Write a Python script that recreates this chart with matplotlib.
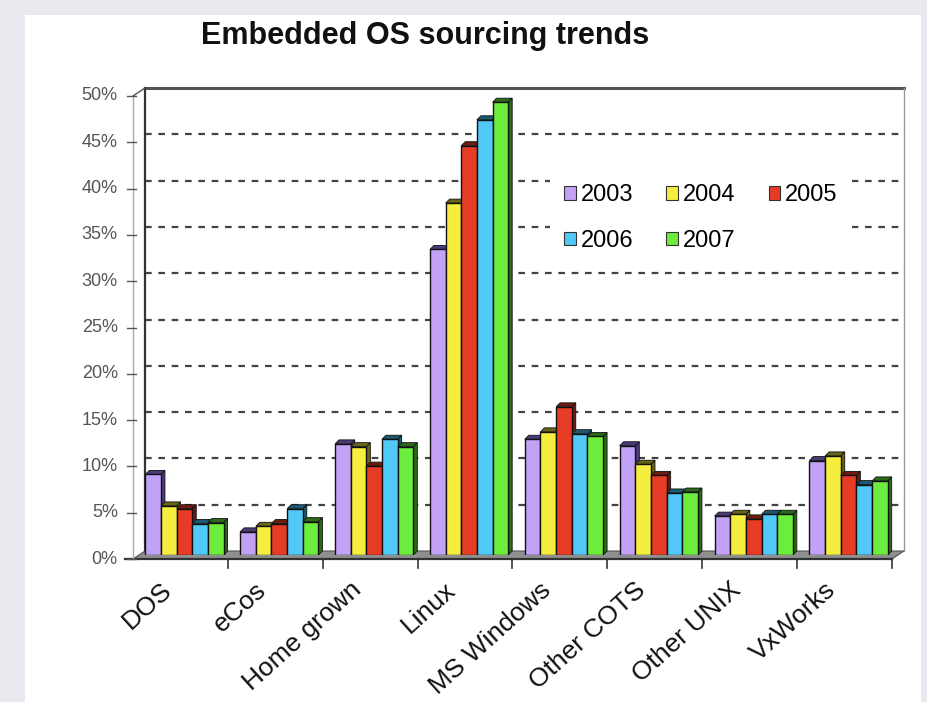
import matplotlib
matplotlib.use("Agg")
import matplotlib.pyplot as plt
from matplotlib.patches import Polygon, Rectangle
from matplotlib.transforms import ScaledTranslation
from matplotlib.lines import Line2D

categories = ["DOS", "eCos", "Home grown", "Linux", "MS Windows", "Other COTS", "Other UNIX", "VxWorks"]
years = ["2003", "2004", "2005", "2006", "2007"]
v2003 = [8.7, 2.5, 12.0, 33.0, 12.5, 11.8, 4.2, 10.2]
v2004 = [5.3, 3.1, 11.7, 38.0, 13.3, 9.8, 4.4, 10.7]
v2005 = [5.0, 3.4, 9.6, 44.2, 16.0, 8.6, 3.9, 8.6]
v2006 = [3.4, 5.0, 12.5, 47.0, 13.1, 6.7, 4.4, 7.6]
v2007 = [3.5, 3.6, 11.7, 48.9, 12.8, 6.8, 4.4, 8.0]
series = [v2003, v2004, v2005, v2006, v2007]
yticks = [0, 5, 10, 15, 20, 25, 30, 35, 40, 45, 50]
ytick_labels = ["0%", "5%", "10%", "15%", "20%", "25%", "30%", "35%", "40%", "45%", "50%"]

front_cols = ["#c2a2f6", "#f6ee3e", "#e63c26", "#52c8f6", "#6cec3c"]
side_cols = ["#4a3a78", "#6a6418", "#6e1c10", "#1c5a74", "#2a6a18"]

W, H = 928, 702
fig = plt.figure(figsize=(W / 100, H / 100), dpi=100)
fig.patch.set_facecolor("#e8eaef")
fig.add_artist(Rectangle((25 / W, 0), (921 - 25) / W, (702 - 15) / H,
                         transform=fig.transFigure, facecolor="white", edgecolor="none", zorder=0))

x0p, x1p, y0p, y50p = 139, 898, 555, 92
ax = fig.add_axes([x0p / W, (H - y0p) / H, (x1p - x0p) / W, (y0p - y50p) / H])
ax.set_xlim(0, 8)
ax.set_ylim(0, 50)
ax.axis("off")
ax.patch.set_alpha(0)

def off(dx, dy):
    return ax.transData + ScaledTranslation(dx / 100, dy / 100, fig.dpi_scale_trans)

wall = off(6, 4)
front = off(-6, -4)
font = ["Liberation Sans", "DejaVu Sans"]

for t in yticks[1:-1]:
    ax.add_line(Line2D([0, 8], [t, t], transform=wall, color="#444444", lw=1.6,
                       ls=(0, (3, 3)), zorder=1, clip_on=False))
ax.add_line(Line2D([0, 8], [50, 50], transform=wall, color="#555555", lw=2.2, zorder=1, clip_on=False))
ax.add_line(Line2D([0, 0], [0, 50], transform=wall, color="#333333", lw=1.6, zorder=1, clip_on=False))
ax.add_line(Line2D([8, 8], [0, 50], transform=wall, color="#999999", lw=1.0, zorder=1, clip_on=False))

px_x = 8 / (x1p - x0p)
px_y = 50 / (y0p - y50p)
floor = Polygon([(0 - 6 * px_x, 0 - 4 * px_y), (8 - 6 * px_x, 0 - 4 * px_y),
                 (8 + 6 * px_x, 0 + 4 * px_y), (0 + 6 * px_x, 0 + 4 * px_y)],
                closed=True, facecolor="#8f8f8f", edgecolor="#555555", lw=0.8, zorder=1.5, clip_on=False)
ax.add_patch(floor)

ax.add_line(Line2D([-0.08, 8], [0, 0], transform=front, color="#333333", lw=1.6, zorder=5, clip_on=False))
ax.add_line(Line2D([0, 0], [0, 50], transform=front, color="#aaaaaa", lw=1.0, zorder=5, clip_on=False))
ax.add_line(Line2D([0 - 6 * px_x, 0 + 6 * px_x], [50 - 4 * px_y, 50 + 4 * px_y], color="#555555",
                   lw=1.0, zorder=5, clip_on=False))
for t, lab in zip(yticks, ytick_labels):
    ax.add_line(Line2D([-0.06, 0.03], [t, t], transform=front, color="#555555", lw=1.0, zorder=5, clip_on=False))
    ax.text(-0.16, t, lab, transform=front, ha="right", va="center", fontsize=13,
            color="#555555", family=font)
for i in range(1, 9):
    ax.add_line(Line2D([i, i], [0, -1.0], transform=front, color="#333333", lw=1.2, zorder=5, clip_on=False))

bw = 0.165
ddx = 4 * px_x
ddy = 4 * px_y
start = 0.5 - 5 * bw / 2 - ddx / 2
for c in range(len(categories)):
    for s, vals in enumerate(series):
        v = vals[c]
        xl = c + start + s * bw
        xr = xl + bw
        z = 3 + c * 0.01 + s * 0.001
        side = Polygon([(xr, 0), (xr + ddx, ddy), (xr + ddx, v + ddy), (xr, v)], closed=True,
                       facecolor=side_cols[s], edgecolor="#111111", lw=0.6, zorder=z)
        top = Polygon([(xl, v), (xl + ddx, v + ddy), (xr + ddx, v + ddy), (xr, v)], closed=True,
                      facecolor=side_cols[s], edgecolor="#111111", lw=0.6, zorder=z)
        ax.add_patch(side)
        ax.add_patch(top)
        ax.bar(xl, v, width=bw, align="edge", color=front_cols[s], edgecolor="#111111",
               lw=1.0, zorder=z + 0.0005)

for i, cat in enumerate(categories):
    ax.text(i + 0.5 - 0.215, -2.0, cat, transform=front, rotation=42, rotation_mode="anchor",
            ha="right", va="top", fontsize=19, color="#111111", family=font)

handles = [Rectangle((0, 0), 1, 1, facecolor=front_cols[i], edgecolor="#333333", lw=0.8) for i in range(5)]
order = [0, 3, 1, 4, 2]
leg = ax.legend([handles[i] for i in order], [years[i] for i in order], ncol=3,
                loc="upper left", bbox_to_anchor=((550 - x0p) / (x1p - x0p), (y0p - 170) / (y0p - y50p)),
                borderaxespad=0.0,
                frameon=True, facecolor="white", edgecolor="none", framealpha=1.0,
                prop={"family": font, "size": 17},
                handlelength=0.5, handleheight=0.5, handletextpad=0.2, columnspacing=1.4,
                labelspacing=1.0, borderpad=0.6, fancybox=False)
leg.set_zorder(2)

fig.text(425 / W, 1 - 36 / H, "Embedded OS sourcing trends", ha="center", va="center",
         fontsize=22, fontweight="bold", color="#111111", family=font)

fig.savefig("out.png", dpi=100, facecolor=fig.get_facecolor())
